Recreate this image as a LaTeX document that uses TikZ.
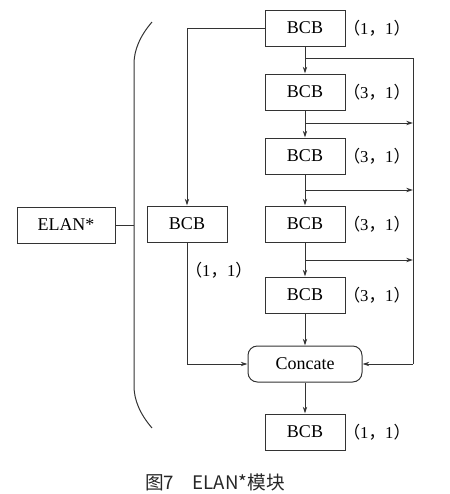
\documentclass[tikz,border=0pt]{standalone}
\usepackage{fontspec}
\setmainfont{Liberation Serif}
\newfontfamily\cjk{Noto Sans CJK SC}
\usetikzlibrary{positioning, arrows.meta}

\tikzset{
	blk/.style={draw, text=black, minimum width=60pt, minimum height=27pt, inner sep=0pt, font=\fontsize{13.5}{15}\selectfont},
	lbl/.style={inner sep=0pt, anchor=west, text=black, font=\fontsize{12.5}{14}\selectfont},
	arr/.style={-{Stealth[length=5pt, width=3.2pt]}},
}
\newcommand{\ks}[2]{{\cjk （}#1{\cjk ，}#2{\cjk ）}}

\begin{document}
\begin{tikzpicture}[x=0.75pt, y=-0.75pt, every path/.style={line width=0.75pt, black!80}]
		\useasboundingbox (0,0) rectangle (450,494);
		% main column
		\node[blk] (B1) at (305, 28) {BCB};
		\node[blk] (B2) at (305, 92) {BCB};
		\node[blk] (B3) at (305, 156) {BCB};
		\node[blk] (B4) at (305, 224) {BCB};
		\node[blk] (B5) at (305, 295) {BCB};
		\node[blk, minimum width=85.5pt, rounded corners=7pt] (C) at (305, 364) {Concate};
		\node[blk] (B6) at (305, 432) {BCB};
		% side branch
		\node[blk] (BL) at (187, 224) {BCB};
		\node[blk, minimum width=73.5pt] (E) at (66, 225) {ELAN*};
		% kernel labels
		\node[lbl] (L1) at (343, 28) {\ks{1}{1}};
		\node[lbl] (L2) at (343, 92) {\ks{3}{1}};
		\node[lbl] (L3) at (343, 156) {\ks{3}{1}};
		\node[lbl] (L4) at (343, 224) {\ks{3}{1}};
		\node[lbl] (L5) at (343, 295) {\ks{3}{1}};
		\node[lbl] (L6) at (343, 432) {\ks{1}{1}};
		\node[lbl] (LL) at (185, 270) {\ks{1}{1}};
		% taps on the right
		\coordinate (T1) at (305, 58);
		\coordinate (T2) at (305, 123);
		\coordinate (T3) at (305, 190);
		\coordinate (T4) at (305, 260);
		\coordinate (R1) at (413, 58);
		\coordinate (R2) at (413, 123);
		\coordinate (R3) at (413, 190);
		\coordinate (R4) at (413, 260);
		\coordinate (R5) at (413, 364);
		\draw[arr] (B1) -- (B2);
		\draw[arr] (B2) -- (B3);
		\draw[arr] (B3) -- (B4);
		\draw[arr] (B4) -- (B5);
		\draw[arr] (B5) -- (C);
		\draw[arr] (C) -- (B6);
		\draw (T1) -- (R1) -- (R5);
		\draw[arr] (T2) -- (R2);
		\draw[arr] (T3) -- (R3);
		\draw[arr] (T4) -- (R4);
		\draw[arr] (R5) -- (C.east);
		\draw[arr] (B1.west) -| (BL.north);
		\draw[arr] (BL.south) |- (C.west);
		% brace
		\coordinate (K) at (134, 225);
		\draw (152, 22) .. controls (140, 36) and (134, 50) .. (134, 64) -- (134, 386) .. controls (134, 400) and (140, 414) .. (152, 428);
		\draw (E.east) -- (K);
		% caption
		\node[inner sep=0pt, font={\cjk\fontsize{14}{16}\selectfont}, text=black!85] (cap) at (215, 482) {图7\quad ELAN*模块};
	\end{tikzpicture}
\end{document}
